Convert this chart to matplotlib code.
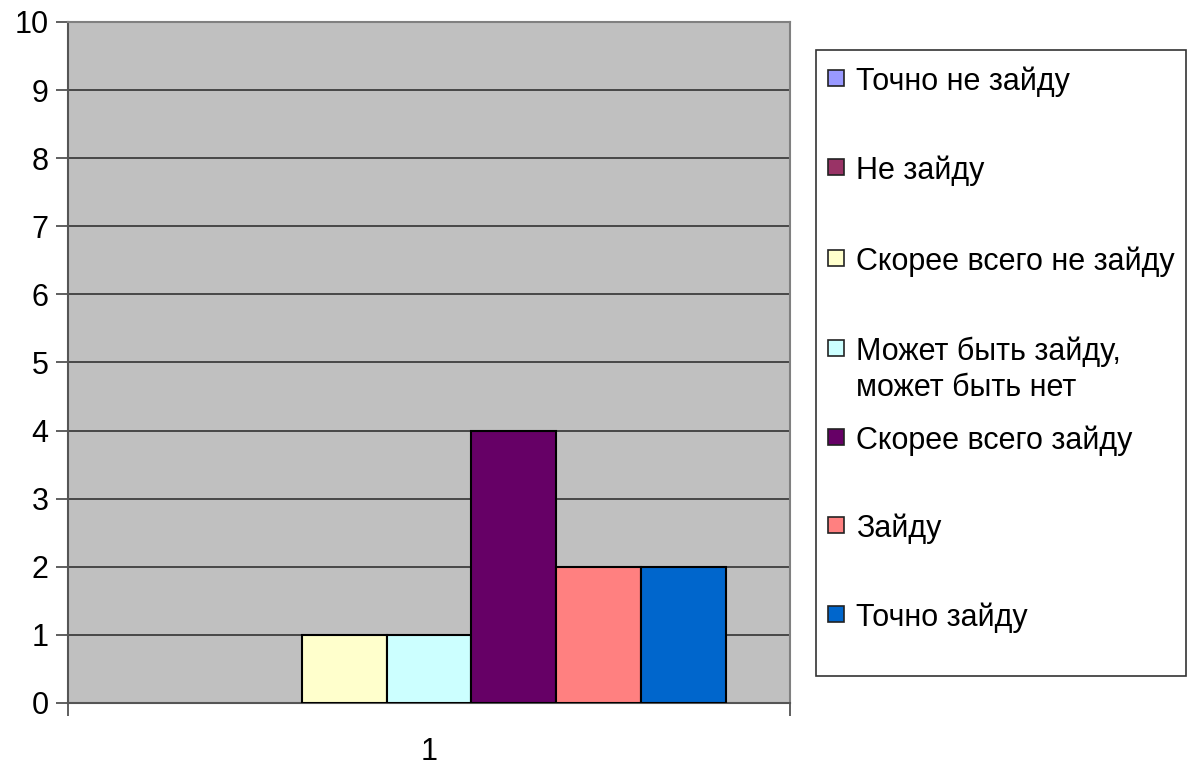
import matplotlib
matplotlib.use('Agg')
import matplotlib.pyplot as plt
from matplotlib.patches import Rectangle

plt.rcParams['font.family'] = ['Liberation Sans', 'DejaVu Sans']

# data
labels = ['Точно не зайду', 'Не зайду', 'Скорее всего не зайду',
          'Может быть зайду,\nможет быть нет', 'Скорее всего зайду',
          'Зайду', 'Точно зайду']
values = [0, 0, 1, 1, 4, 2, 2]
colors = ['#9999FF', '#993366', '#FFFFCC', '#CCFFFF', '#660066', '#FF8080', '#0066CC']
category = 1

W, H = 1188, 765
fig = plt.figure(figsize=(W / 100, H / 100), dpi=100)
ax = fig.add_axes([68 / W, 1 - 703 / H, (790 - 68) / W, (703 - 22) / H])
ax.set_facecolor('#C0C0C0')

n = len(values)
bw = 1 / (n + 1.5)
for i, (v, c) in enumerate(zip(values, colors)):
    x = category + (i - (n - 1) / 2) * bw
    if v > 0:
        ax.bar(x, v, width=bw, color=c, edgecolor='black', linewidth=1.5, zorder=3)

ax.set_xlim(category - 0.5, category + 0.5)
ax.set_ylim(0, 10)
ax.set_yticks(range(0, 11))
ax.yaxis.grid(True, color='#333333', linewidth=1.2, zorder=1)
ax.set_axisbelow(True)

ax.set_xticks([category - 0.5, category + 0.5])
ax.set_xticklabels(['', ''])
ax.tick_params(axis='x', direction='out', length=9, width=1.2, color='#444444')
ax.tick_params(axis='y', direction='out', length=9, width=1.2, color='#444444',
               labelsize=22, pad=5)
ax.text(category, -0.5, str(category), ha='center', va='top', fontsize=22,
        transform=ax.transData)

for s in ['left', 'bottom']:
    ax.spines[s].set_color('#555555')
    ax.spines[s].set_linewidth(1.5)
for s in ['top', 'right']:
    ax.spines[s].set_color('#808080')
    ax.spines[s].set_linewidth(1.5)

# legend drawn by hand to mimic the Excel layout
fig.patches.append(Rectangle((816 / W, 1 - 676 / H), (1186 - 816) / W, (676 - 50) / H,
                             transform=fig.transFigure, facecolor='white',
                             edgecolor='#333333', linewidth=1.2))
ys = [78, 167, 258, 348, 437, 525, 614]
line_gap = 36
for lab, c, y in zip(labels, colors, ys):
    fig.patches.append(Rectangle((828 / W, 1 - (y + 8) / H), 16 / W, 16 / H,
                                 transform=fig.transFigure, facecolor=c,
                                 edgecolor='#222222', linewidth=1.2))
    for k, line in enumerate(lab.split('\n')):
        fig.text(856 / W, 1 - (y + k * line_gap) / H, line, ha='left',
                 va='center_baseline', fontsize=22)

fig.savefig('out.png', dpi=100)
